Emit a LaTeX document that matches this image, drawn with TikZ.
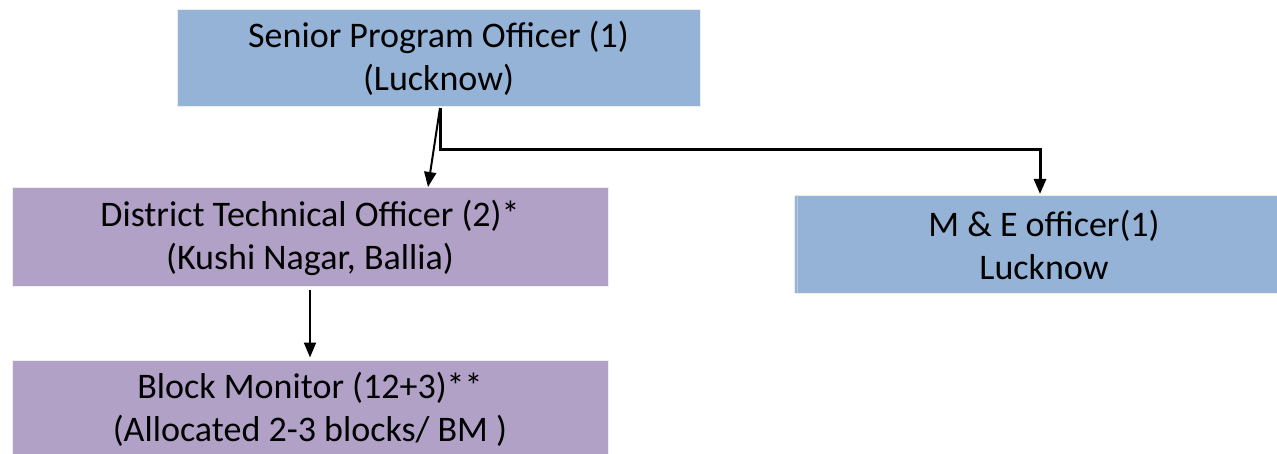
\documentclass[tikz,border=0pt]{standalone}
\usepackage{fontspec}
\setmainfont{Carlito}
\usetikzlibrary{arrows.meta}
\definecolor{boxblue}{HTML}{95B3D7}
\definecolor{boxpurple}{HTML}{B2A1C7}
\definecolor{edgegray}{HTML}{EFEFEA}
\begin{document}
\begin{tikzpicture}[x=1pt,y=-1pt,
  orgbox/.style={draw=edgegray,line width=1pt,align=center,inner sep=0pt,
    font=\fontsize{36}{43}\selectfont},
  conn/.style={draw=black,line width=2pt,-{Triangle[width=12pt,length=15pt]}}]
\useasboundingbox (0,0) rectangle (1277,454);
\node[orgbox,fill=boxblue,minimum width=523pt,minimum height=97pt] (spo) at (438.5,58.5)
  {Senior Program Officer (1)\\(Lucknow)};
\node[orgbox,fill=boxpurple,minimum width=596pt,minimum height=99pt] (dto) at (310,237.5)
  {District Technical Officer (2)*\\(Kushi Nagar, Ballia)};
\node[orgbox,fill=boxpurple,minimum width=596pt,minimum height=99pt] (bm) at (310,409.5)
  {Block Monitor (12+3)**\\(Allocated 2-3 blocks/ BM )};
\node[orgbox,fill=boxblue,minimum width=500pt,minimum height=98pt] (me) at (1044,245)
  {M \& E officer(1)\\Lucknow};
\draw[boxblue!70!white,line width=1pt] (me.north west) ++(4,0) -- ++(0,98);
\coordinate (s1) at (440,108);
\coordinate (e1) at (428,187);
\coordinate (e2) at (1040,194);
\draw[conn] (s1) -- (e1);
\draw[conn,line width=3pt] (s1) |- (0,150 -| e2) -- (e2);
\draw[conn,shorten <=3pt,shorten >=2pt] (dto.south) -- (bm.north);
\end{tikzpicture}
\end{document}
